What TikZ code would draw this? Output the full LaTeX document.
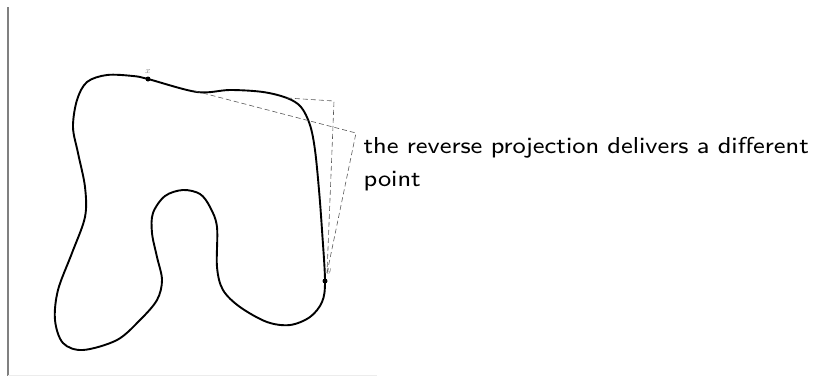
\documentclass[tikz,border=0pt]{standalone}
\usetikzlibrary{positioning, calc}

\begin{document}
\begin{tikzpicture}[
    x=1pt, y=-1pt,
    font=\sffamily,
    outline/.style={line width=1.9pt, line join=round},
    spot/.style={circle, fill=black, inner sep=0pt, minimum size=5pt},
    ptlabel/.style={font=\fontsize{9}{9}\selectfont, text=gray, inner sep=1pt},
    proj/.style={line width=0.6pt, gray!70!black, dash pattern=on 5pt off 3pt},
    frame/.style={line width=1.8pt, gray},
    note/.style={font=\sffamily\fontsize{8}{11.8}\selectfont, text width=150pt, align=left,
        inner sep=0pt, anchor=base west, xscale=3.11, yscale=2.88, transform shape}
]

    \useasboundingbox (0,0) rectangle (815,376);

    % page edge
    \coordinate (edgetop) at (8,7);
    \coordinate (edgebot) at (8,376);
    \coordinate (edgeend) at (377,375);
    \draw [frame] (edgetop) -- (edgebot);
    \draw [line width=1pt, gray!15] (edgebot |- edgeend) -- (edgeend);

    % the closed curve
    \draw [outline] plot [smooth cycle, tension=0.55] coordinates {
        (148,79) (197,92) (230,90) (263,92) (287,98) (301,107) (310,125) (315,150)
        (319,190) (322,230) (325,281) (322,302) (310,317) (290,325) (267,322)
        (240,307) (223,290) (217,267) (217,227) (210,207) (200,194) (183,190)
        (165,196) (153,213) (152,233) (157,257) (162,280) (157,300) (140,320)
        (117,340) (83,350) (63,343) (55,320) (58,290) (72,253) (85,217) (85,187)
        (78,153) (73,127) (77,100) (87,82) (107,75) (133,76)};

    \node (x) [spot] at (148,79) {};
    \node (y) [spot] at (325,281) {};
    \node (xlab) [ptlabel, above=2pt of x] {$x$};
    \node (ylab) [ptlabel] at (329,271) {$y$};

    % projections
    \coordinate (p1) at (195,91);
    \coordinate (p2) at (287,98);
    \coordinate (a) at (356,133);
    \coordinate (b) at (334,101);
    \coordinate (yend) at (327,273);

    \draw [proj] (p1) -- (a) -- (yend);
    \draw [proj] (p2) -- (b) -- (yend);

    \node (msg) [note] at (363,153) {the reverse projection delivers a different point};

\end{tikzpicture}
\end{document}
